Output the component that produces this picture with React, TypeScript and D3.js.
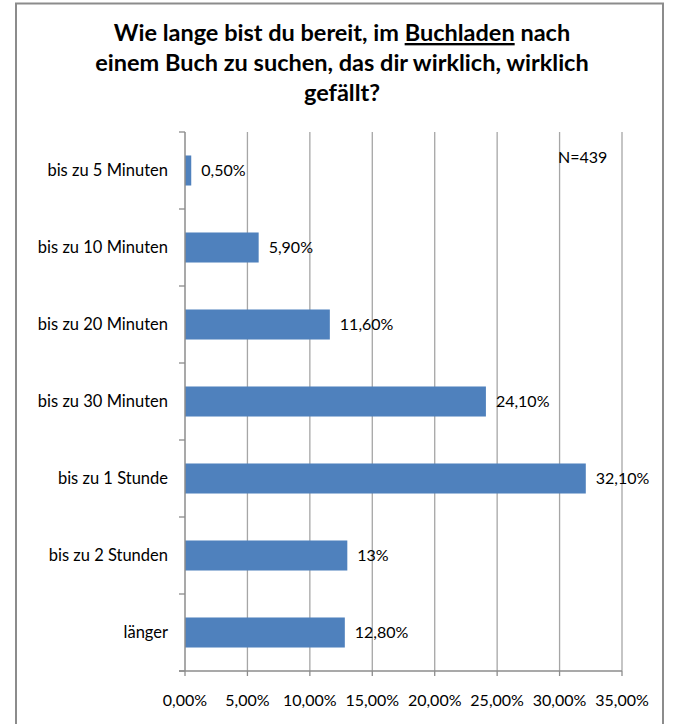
import React from "react";
import * as d3 from "d3";

const categories = ["bis zu 5 Minuten", "bis zu 10 Minuten", "bis zu 20 Minuten", "bis zu 30 Minuten", "bis zu 1 Stunde", "bis zu 2 Stunden", "länger"];
const values = [0.5, 5.9, 11.6, 24.1, 32.1, 13, 12.8];
const valueLabels = ["0,50%", "5,90%", "11,60%", "24,10%", "32,10%", "13%", "12,80%"];
const xTicks = [0, 5, 10, 15, 20, 25, 30, 35];
const titleLines = ["Wie lange bist du bereit, im Buchladen nach", "einem Buch zu suchen, das dir wirklich, wirklich", "gefällt?"];
const note = "N=439";

export default function App() {
  const W = 678, H = 724;
  const left = 185, right = 622, top = 132, bottom = 671;
  const x = d3.scaleLinear().domain([0, 35]).range([left, right]);
  const y = d3.scaleBand().domain(categories).range([top, bottom]).paddingInner(0.61).paddingOuter(0.305);
  const band = (bottom - top) / categories.length;
  const font = "Lato, 'Open Sans', sans-serif";
  const fmt = (v: number) => v.toFixed(2).replace(".", ",") + "%";
  return (
    <svg width={W} height={H} style={{ position: "absolute", left: 0, top: 0 }} fontFamily={font}>
      <rect x={0} y={0} width={W} height={H} fill="#fff" />
      <rect x={16} y={3.5} width={647} height={730} fill="none" stroke="#8c8c8c" strokeWidth={2} />
      {titleLines.map((t, i) => (
        <text key={i} x={342} y={41 + i * 30} textAnchor="middle" fontSize={23.5} fontWeight="bold" fill="#000">
          {i === 0 ? (
            <>
              <tspan>Wie lange bist du bereit, im </tspan>
              <tspan textDecoration="underline">Buchladen</tspan>
              <tspan> nach</tspan>
            </>
          ) : t}
        </text>
      ))}
      {xTicks.slice(1).map((t) => (
        <line key={t} x1={x(t)} x2={x(t)} y1={top} y2={bottom} stroke="#a6a6a6" strokeWidth={1.3} />
      ))}
      {categories.map((c, i) => (
        <g key={c}>
          <rect x={x(0)} y={y(c)!} width={x(values[i]) - x(0)} height={y.bandwidth()} fill="#4F81BD" />
          <text x={x(values[i]) + 10} y={y(c)! + y.bandwidth() / 2} dy="0.35em" fontSize={16} fill="#000">{valueLabels[i]}</text>
          <text x={168} y={y(c)! + y.bandwidth() / 2} dy="0.35em" textAnchor="end" fontSize={16.5} fill="#000">{c}</text>
        </g>
      ))}
      <line x1={left} x2={left} y1={top} y2={bottom} stroke="#8c8c8c" strokeWidth={1.5} />
      {d3.range(categories.length + 1).map((i) => (
        <line key={i} x1={left - 6} x2={left} y1={top + i * band} y2={top + i * band} stroke="#8c8c8c" strokeWidth={1.3} />
      ))}
      <line x1={left - 6} x2={right} y1={bottom} y2={bottom} stroke="#8c8c8c" strokeWidth={1.5} />
      {xTicks.map((t) => (
        <g key={t}>
          <line x1={x(t)} x2={x(t)} y1={bottom} y2={bottom + 5} stroke="#8c8c8c" strokeWidth={1.3} />
          <text x={x(t)} y={700} dy="0.35em" textAnchor="middle" fontSize={16} fill="#000">{fmt(t)}</text>
        </g>
      ))}
      <text x={558} y={157} dy="0.35em" fontSize={16} fill="#000">{note}</text>
    </svg>
  );
}
